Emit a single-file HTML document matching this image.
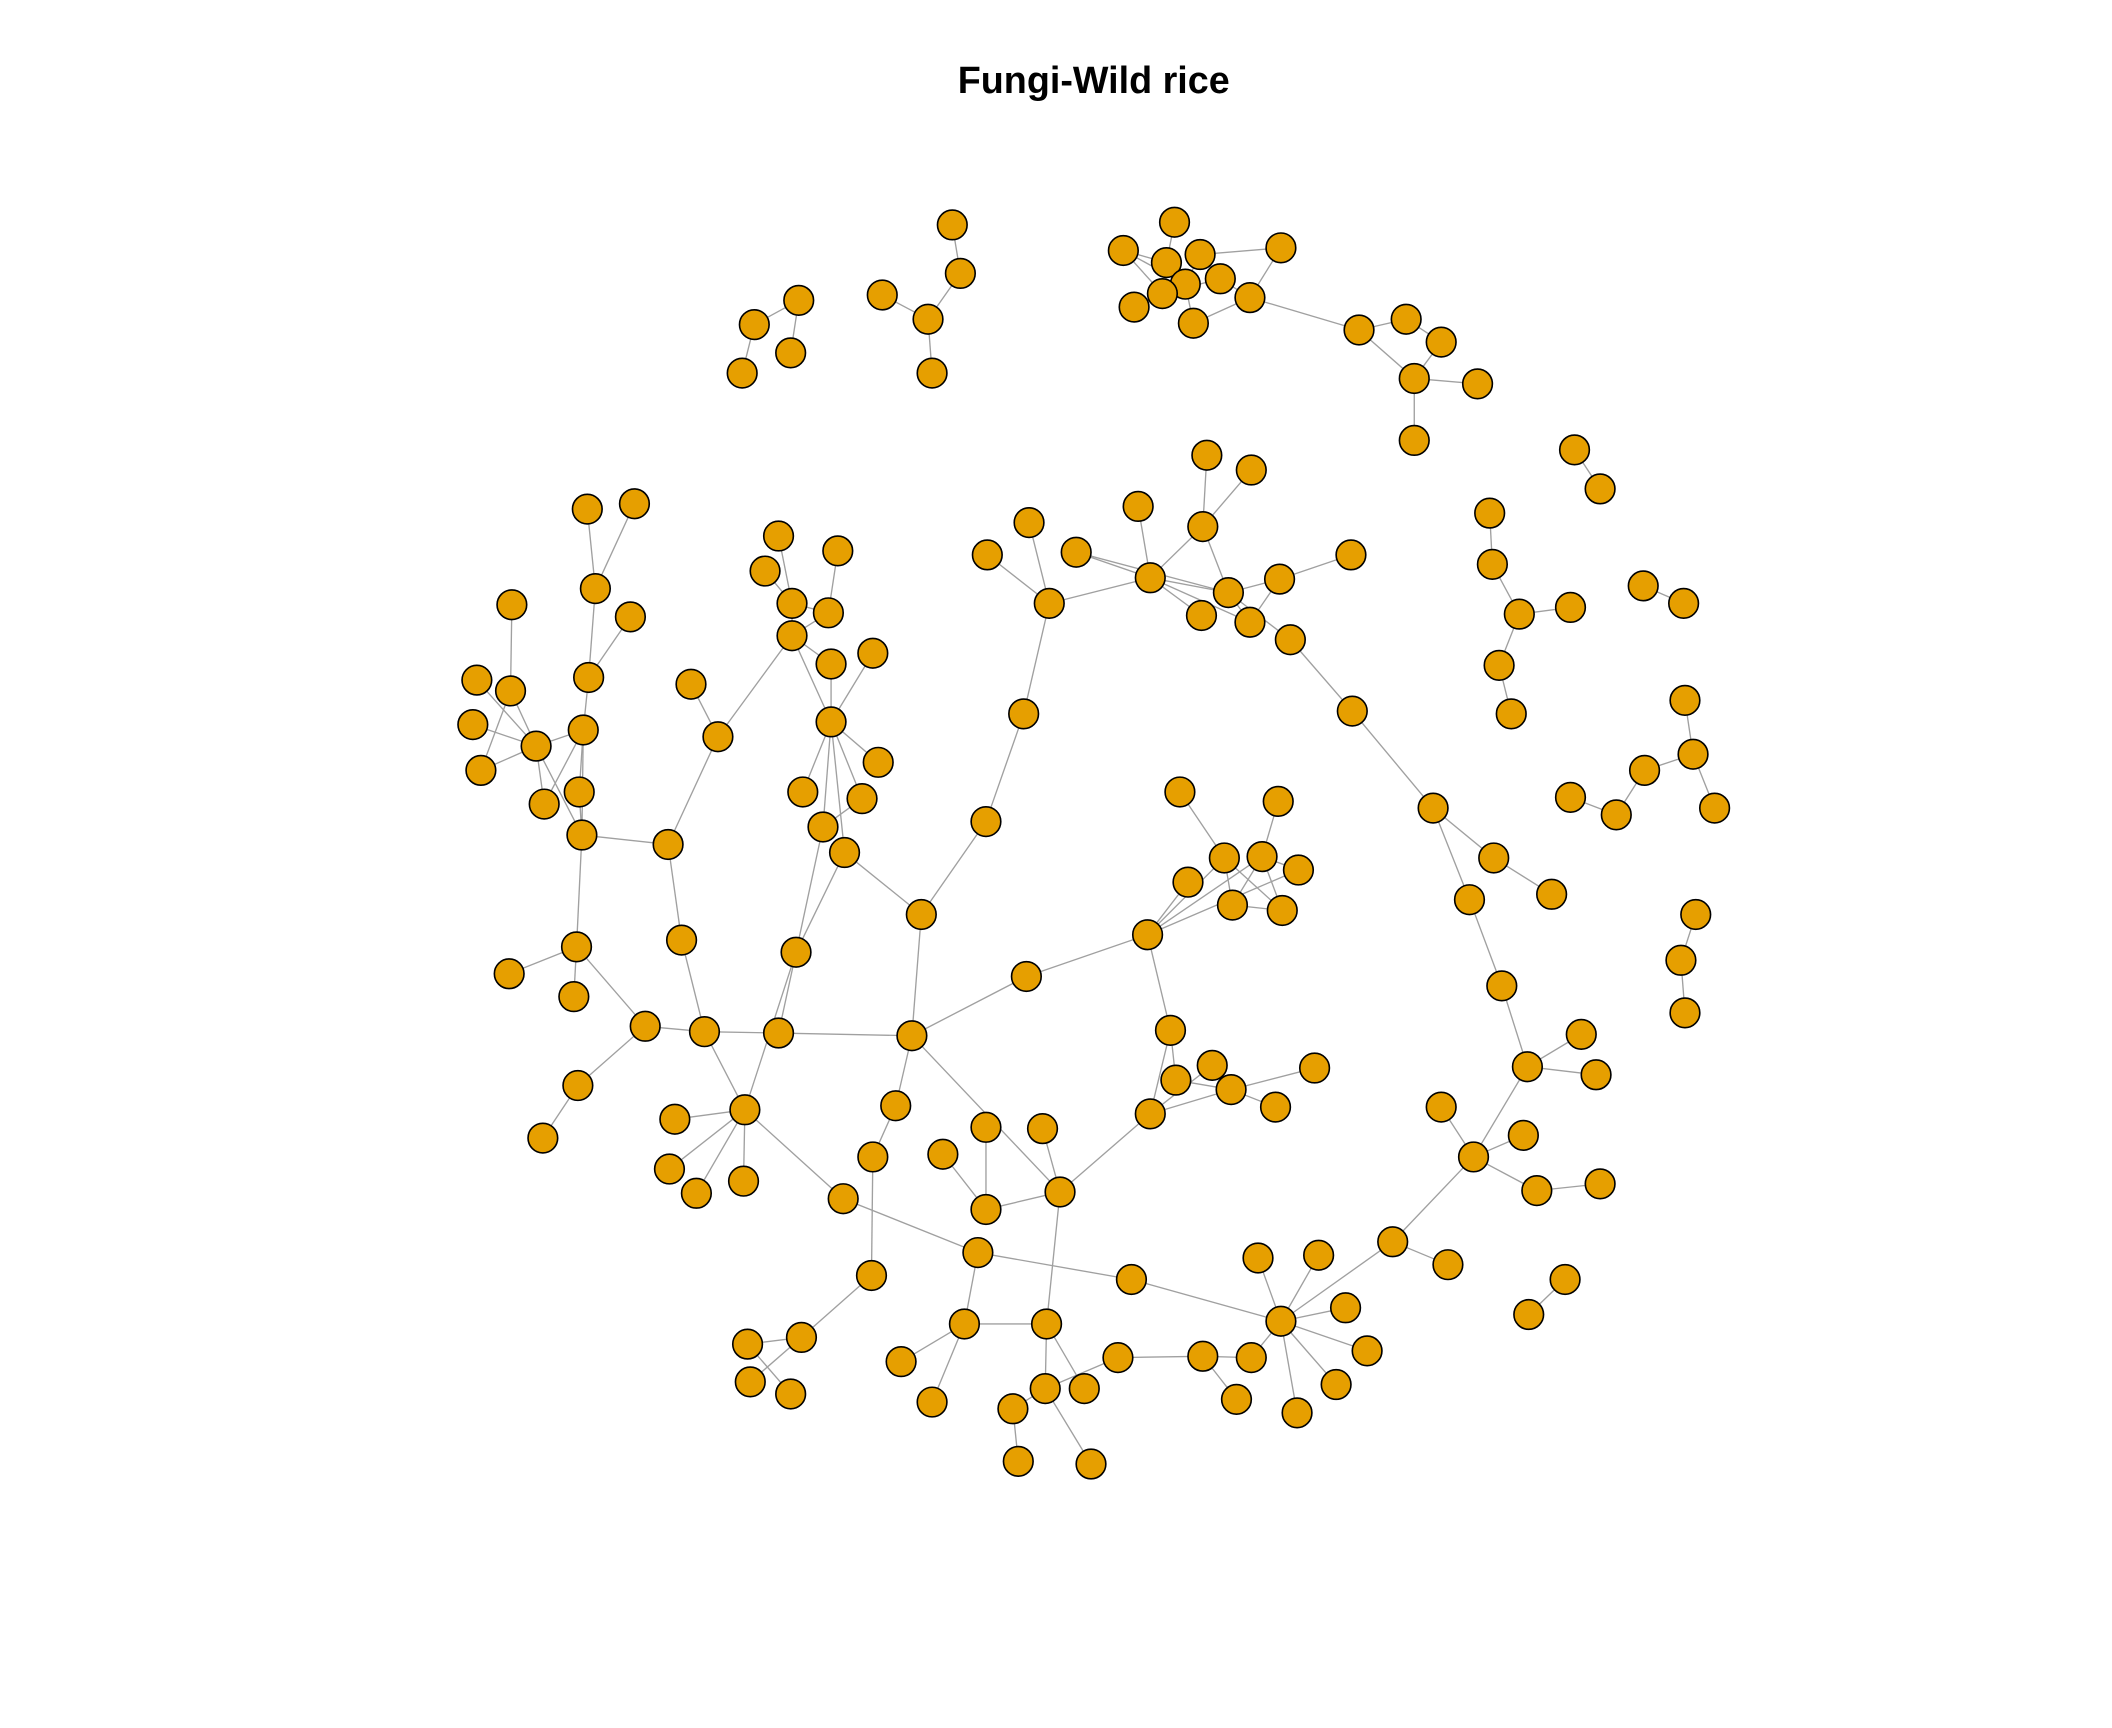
<!DOCTYPE html>
<html><head><meta charset="utf-8"><style>
html,body{margin:0;padding:0;background:#fff;}
svg{display:block;}
</style></head><body>
<svg id="chart" width="2112" height="1728" viewBox="0 0 1568 1283" xmlns="http://www.w3.org/2000/svg">
<rect width="1568" height="1283" fill="#fff"/>
<text x="812" y="69" text-anchor="middle" font-family="Liberation Sans, sans-serif" font-weight="bold" font-size="28" fill="#000">Fungi-Wild rice</text>
<g id="edges"></g>
<g id="nodes"></g>
</svg>
<script>
const nodeIds = ["a1","a2","a3","a4","b1","b2","b3","b4","b5",
"c1","c2","c3","c4","c5","c6","c7","c8","c9","c10","c11","c12","c13","c14","c15","c16","c17",
"d1","d2","e1","e2","e3","e4","e5","e6","f1","f2","g1","g2","g3","g4","g5","g6","h1","h2","h3","i1","i2",
"m1","m2","m3","m4","m5","m6","m7","m8","m9","m10","m11","m12","m13","m14","m15","m16","m17","m18","m19",
"n1","n2","n3","n4","n5","n6","n7","n8","n9","n10","n11","n12","n13","n14","n15","n16",
"o1","o2","o3","o4","o5","o6","o7","o8","o9","o10",
"p1","p2","p3","p4","p5","p6","p7","p8","p9","p10","q1",
"r1","r2","r3","r4","r5","r6","r7","r8","r9",
"x1","x2","x3","x4","x5","x6","x7","x8","x9",
"u1","u2","u3","u4","u5","u6","u7","w1",
"t1","t2","t3","t4",
"v1","v2","v3","v4","v5","v6","v7","v8","y1",
"z1","z2","z3","z4","z5","z6","z7","z8",
"k1","k0","k2","k3","k4","k5","k6","k7","k8","k9","k10","k11","k12","k13","k14","k15",
"L1","L3","L4","L5","L6","L7","L8","L9","L10","L11","L12","L13","L14","L15","L16"];
const nodeX = [593,560,587,551,707,713,655,689,692,
872,834,866,891,951,906,880,863,842,886,928,1009,1044,1070,1050,1097,1050,
1169,1188,1106,1108,1128,1166,1113,1122,1220,1250,1251,1257,1221,1273,1200,1166,1259,1248,1251,1162,1135,
896,929,893,845,764,733,799,854,779,912,892,950,1003,928,958,1004,760,732,684,
1064,1109,1152,1091,1115,1134,1174,1185,1094,1070,1131,1141,1188,1034,1075,951,
934,979,999,1015,992,963,929,893,918,840,
830,805,776,777,716,752,756,810,669,692,726,
787,732,732,774,700,677,665,648,647,
852,876,949,909,937,964,882,915,952,
854,869,873,900,914,947,976,762,
595,555,557,587,
578,523,591,553,501,497,517,552,626,
479,506,496,429,403,428,378,426,
533,513,588,588,568,578,622,615,617,648,617,652,596,640,611,627,
432,398,430,404,433,437,442,436,471,468,380,379,354,351,357];
const nodeY = [223,241,262,277,167,203,219,237,277,
165,186,195,189,184,207,211,218,228,240,221,245,237,254,281,285,327,
334,363,381,419,456,451,494,530,435,448,520,560,572,600,605,592,679,713,752,950,976,
338,349,391,376,388,412,410,429,448,440,457,430,412,462,475,528,530,610,679,
600,637,664,668,732,792,768,798,859,822,843,884,879,922,939,981,
934,932,971,1003,1028,1049,1008,1007,1039,950,
1008,1031,1031,983,983,1046,1085,1087,1011,1041,930,
885,898,837,838,857,769,821,859,947,
694,588,595,637,636,646,655,672,676,
827,765,802,791,809,822,793,725,
993,998,1026,1035,
767,766,707,824,831,868,886,877,890,
762,698,627,806,845,703,723,740,
547,508,472,448,424,398,409,455,493,485,536,566,588,593,614,633,
620,554,588,597,542,503,437,378,374,458,449,513,505,538,572];
const edgeFrom = ["a1","a1","a2","b1","b2","b3","b4",
"c1","c2","c2","c3","c4","c4","c4","c7","c8","c9","c6","c11","c10","c11","c12","c12","c13","c14","c15","c15","c2",
"d1","e1","e2","e3","e3","e5","f1","g1","g2","g2","g3","g5","h1","h2","i1",
"m1","m2","m3","m4","m3","m5","m6","m7","m9","m8","m8","m8","m10","m12","m14","m10","m15","m9","m17","m18","m10","m7",
"m16","n1","n2","n1","n4","n5","n6","n6","n6","n9","n9","n9","n12","n9","n14","n14",
"n16","n16","n16","n16","n16","n16","n16","o8","o8","o8","n16","o10",
"p1","p3","p4","p4","p3","p6","p3","p5","p5","p5","p4","q1",
"r1","r3","r5","r6","r4","r6","r7","r8","r9","r1","r6","r6","r6","w1",
"x1","x1","x1","x2","x3","x4","x4","x5","x5","x5","x8","x1","x1",
"u2","u2","u1","u3","u4","u5","u5","u1",
"t1","t2","t3",
"v1","v1","v4","v4","v4","v4","v4","v4","v4",
"v2","v2","z2","z3","z3","k1","k1","z1","z4","z1","z6","z6","z6",
"k2","k3","k3","k3","k7","k2","k2","k2","k8","k10","k10","k10","k10","k10","k10","k13","k14","k15","k15",
"L1","L1","L4","L3","L3","L3","L3","L3","L3","L6","L7","L8","L10","L7","L12","L13","L5","L1"];
const edgeTo = ["a2","a3","a4","b2","b4","b4","b5",
"c3","c3","c8","c7","c7","c6","c5","c10","c6","c7","c11","c5","c11","c12","c13","c15","c14","c15","c16","c17","c7",
"d2","e2","e3","e4","e5","e6","f2","g2","g3","g4","g5","g6","h2","h3","i2",
"m3","m3","m8","m8","m10","m9","m9","m8","m8","m10","m11","m14","m12","m13","m12","m14","m16","m17","m18","m19","m15","m10",
"n1","n2","n3","n4","n5","n6","n7","n8","n9","n10","n11","n12","n13","n14","n15","n16",
"o1","o2","o3","o4","o5","o6","o7","o7","o9","p1","o10","q1",
"p3","p4","p2","p5","p6","p7","p8","p9","p10","q1","r1","y1",
"r2","r2","r2","r1","r1","r7","r8","r9","t1","u1","m19","v1","w1","x1",
"x4","x7","x5","x4","x5","x8","x9","x6","x8","x9","x9","x6","u2",
"u3","u1","u5","u5","u5","u7","u6","u4",
"t2","t4","t1",
"v2","v3","v3","v5","v6","v7","v8","y1","v2",
"z1","z2","z3","L1","k1","k0","k2","z4","z5","z6","z7","z8","L1",
"k3","k4","k5","k7","k6","k7","k8","k10","k10","k9","k11","k12","k13","k14","k15","k14","v3","m19","v3",
"L4","L3","L6","L6","L5","L13","L14","L15","L16","L7","L8","L9","L8","L11","L13","L16","L6","L6"];

const NS = "http://www.w3.org/2000/svg";
const eg = document.getElementById('edges');
const ng = document.getElementById('nodes');
function px(id){ return nodeX[nodeIds.indexOf(id)]; }
function py(id){ return nodeY[nodeIds.indexOf(id)]; }
for (let i = 0; i < edgeFrom.length; i++) {
  const l = document.createElementNS(NS, 'line');
  l.setAttribute('x1', px(edgeFrom[i])); l.setAttribute('y1', py(edgeFrom[i]));
  l.setAttribute('x2', px(edgeTo[i])); l.setAttribute('y2', py(edgeTo[i]));
  l.setAttribute('stroke', '#a0a0a0'); l.setAttribute('stroke-width', '1');
  
  
  eg.appendChild(l);
}
for (let i = 0; i < nodeIds.length; i++) {
  const c = document.createElementNS(NS, 'circle');
  c.setAttribute('cx', nodeX[i]); c.setAttribute('cy', nodeY[i]); c.setAttribute('r', '11');
  c.setAttribute('fill', '#E69F00'); c.setAttribute('stroke', '#000'); c.setAttribute('stroke-width', '1.2');
  
  
  ng.appendChild(c);
}
</script>
</body></html>
